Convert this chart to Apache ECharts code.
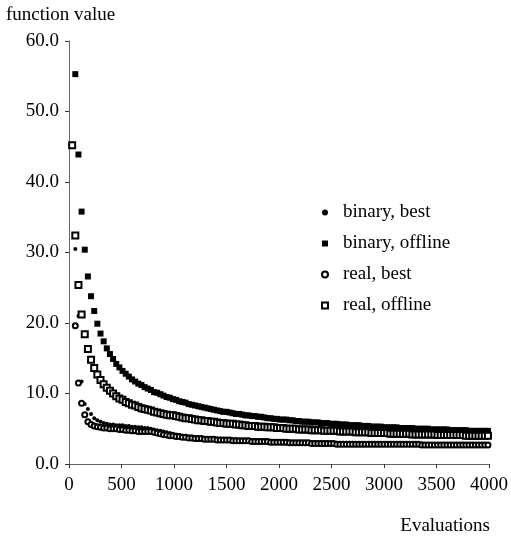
<!DOCTYPE html>
<html>
<head>
<meta charset="utf-8">
<script src="https://cdn.jsdelivr.net/npm/echarts@6/dist/echarts.min.js"></script>
<style>
  html, body { margin: 0; padding: 0; background: #fff; }
  #chart { width: 511px; height: 540px; }
</style>
</head>
<body>
<div id="chart"></div>
<script>
// evaluation grid: one point every 30 evaluations
const evaluations = Array.from({ length: 133 }, (_, i) => 30 * (i + 1));

// first binary values lie above 60 and are off the chart
const binaryBest = [null, 30.5, 21.0, 11.7, 8.5, 7.8, 7.1, 6.5, 6.2, 6.0,
  5.8, 5.7, 5.6, 5.6, 5.5, 5.5, 5.5, 5.4, 5.4, 5.3,
  5.3, 5.2, 5.2, 5.1, 5.1, 5.0, 4.9, 4.8, 4.7, 4.6,
  4.5, 4.4, 4.3, 4.2, 4.1, 4.0, 4.0, 3.9, 3.9, 3.8,
  3.8, 3.7, 3.7, 3.7, 3.6, 3.6, 3.6, 3.6, 3.5, 3.5,
  3.5, 3.5, 3.5, 3.4, 3.4, 3.4, 3.4, 3.4, 3.3, 3.3,
  3.3, 3.3, 3.3, 3.3, 3.2, 3.2, 3.2, 3.2, 3.2, 3.2,
  3.1, 3.1, 3.1, 3.1, 3.1, 3.1, 3.1, 3.1, 3.0, 3.0,
  3.0, 3.0, 3.0, 3.0, 3.0, 3.0, 3.0, 3.0, 3.0, 3.0,
  2.9, 2.9, 2.9, 2.9, 2.9, 2.9, 2.9, 2.9, 2.9, 2.9,
  2.9, 2.9, 2.9, 2.9, 2.9, 2.9, 2.9, 2.9, 2.9, 2.9,
  2.9, 2.9, 2.8, 2.8, 2.8, 2.8, 2.8, 2.8, 2.8, 2.8,
  2.8, 2.8, 2.8, 2.8, 2.8, 2.8, 2.8, 2.8, 2.8, 2.8,
  2.8, 2.8, 2.8];

const binaryOffline = [null, 55.3, 43.9, 35.8, 30.4, 26.6, 23.8, 21.7, 19.9, 18.5,
  17.4, 16.4, 15.6, 14.9, 14.2, 13.7, 13.2, 12.8, 12.4, 12.0,
  11.7, 11.4, 11.2, 10.9, 10.7, 10.5, 10.2, 10.1, 9.9, 9.7,
  9.5, 9.4, 9.2, 9.1, 8.9, 8.8, 8.7, 8.5, 8.4, 8.3,
  8.2, 8.1, 8.0, 7.9, 7.8, 7.7, 7.6, 7.5, 7.4, 7.4,
  7.3, 7.2, 7.1, 7.1, 7.0, 6.9, 6.9, 6.8, 6.8, 6.7,
  6.7, 6.6, 6.5, 6.5, 6.4, 6.4, 6.3, 6.3, 6.3, 6.2,
  6.2, 6.1, 6.1, 6.0, 6.0, 6.0, 5.9, 5.9, 5.9, 5.8,
  5.8, 5.8, 5.7, 5.7, 5.7, 5.6, 5.6, 5.6, 5.5, 5.5,
  5.5, 5.5, 5.4, 5.4, 5.4, 5.3, 5.3, 5.3, 5.3, 5.2,
  5.2, 5.2, 5.2, 5.2, 5.1, 5.1, 5.1, 5.1, 5.1, 5.0,
  5.0, 5.0, 5.0, 5.0, 4.9, 4.9, 4.9, 4.9, 4.9, 4.9,
  4.8, 4.8, 4.8, 4.8, 4.8, 4.8, 4.7, 4.7, 4.7, 4.7,
  4.7, 4.7, 4.7];

const realBest = [45.2, 19.6, 11.5, 8.6, 7.0, 6.0, 5.6, 5.4, 5.3, 5.2,
  5.1, 5.1, 5.0, 5.0, 5.0, 4.9, 4.9, 4.8, 4.8, 4.7,
  4.7, 4.6, 4.6, 4.6, 4.6, 4.6, 4.5, 4.4, 4.3, 4.2,
  4.1, 4.0, 4.0, 3.9, 3.9, 3.8, 3.8, 3.7, 3.7, 3.6,
  3.6, 3.6, 3.5, 3.5, 3.5, 3.5, 3.4, 3.4, 3.4, 3.4,
  3.4, 3.3, 3.3, 3.3, 3.3, 3.3, 3.3, 3.2, 3.2, 3.2,
  3.2, 3.2, 3.2, 3.1, 3.1, 3.1, 3.1, 3.1, 3.1, 3.0,
  3.0, 3.0, 3.0, 3.0, 3.0, 3.0, 2.9, 2.9, 2.9, 2.9,
  2.9, 2.9, 2.9, 2.9, 2.8, 2.8, 2.8, 2.8, 2.8, 2.8,
  2.8, 2.8, 2.8, 2.8, 2.8, 2.8, 2.8, 2.8, 2.8, 2.8,
  2.8, 2.8, 2.8, 2.8, 2.8, 2.8, 2.8, 2.8, 2.8, 2.8,
  2.8, 2.7, 2.7, 2.7, 2.7, 2.7, 2.7, 2.7, 2.7, 2.7,
  2.7, 2.7, 2.7, 2.7, 2.7, 2.7, 2.7, 2.7, 2.7, 2.7,
  2.7, 2.7, 2.7];

const realOffline = [45.2, 32.4, 25.4, 21.2, 18.4, 16.3, 14.8, 13.6, 12.7, 11.9,
  11.3, 10.8, 10.4, 10.0, 9.6, 9.3, 9.1, 8.8, 8.6, 8.4,
  8.3, 8.1, 7.9, 7.8, 7.7, 7.6, 7.4, 7.3, 7.2, 7.1,
  7.0, 6.9, 6.9, 6.8, 6.7, 6.6, 6.5, 6.5, 6.4, 6.3,
  6.2, 6.2, 6.1, 6.1, 6.0, 6.0, 5.9, 5.8, 5.8, 5.7,
  5.7, 5.7, 5.6, 5.6, 5.5, 5.5, 5.4, 5.4, 5.4, 5.3,
  5.3, 5.3, 5.2, 5.2, 5.2, 5.1, 5.1, 5.1, 5.0, 5.0,
  5.0, 5.0, 4.9, 4.9, 4.9, 4.9, 4.8, 4.8, 4.8, 4.8,
  4.7, 4.7, 4.7, 4.7, 4.7, 4.6, 4.6, 4.6, 4.6, 4.6,
  4.5, 4.5, 4.5, 4.5, 4.5, 4.4, 4.4, 4.4, 4.4, 4.4,
  4.4, 4.3, 4.3, 4.3, 4.3, 4.3, 4.3, 4.3, 4.2, 4.2,
  4.2, 4.2, 4.2, 4.2, 4.2, 4.2, 4.1, 4.1, 4.1, 4.1,
  4.1, 4.1, 4.1, 4.1, 4.1, 4.0, 4.0, 4.0, 4.0, 4.0,
  4.0, 4.0, 4.0];

const seriesNames = ['binary, best', 'binary, offline', 'real, best', 'real, offline'];
const xTicks = [0, 4000, 500];
const yTicks = [0, 60, 10];

const font = 'Liberation Serif';

function pairs(values) {
  return evaluations.map((e, i) => [e, values[i]]).filter(p => p[1] != null);
}

const chart = echarts.init(document.getElementById('chart'), null, { renderer: 'canvas' });

chart.setOption({
  animation: false,
  backgroundColor: '#fff',
  textStyle: { fontFamily: font, color: '#000' },
  title: [
    { text: 'function value', left: 1, top: 1, textStyle: { fontFamily: font, fontSize: 19, fontWeight: 'normal', color: '#000' } },
    { text: 'Evaluations', right: 16, top: 512, textStyle: { fontFamily: font, fontSize: 19, fontWeight: 'normal', color: '#000' } }
  ],
  grid: { left: 69, top: 41, right: 19, bottom: 76, containLabel: false },
  legend: {
    orient: 'vertical',
    left: 316,
    top: 198,
    itemGap: 12,
    itemWidth: 6,
    itemHeight: 6,
    textStyle: { fontFamily: font, fontSize: 19, color: '#000', padding: [0, 0, 0, 10] },
    data: seriesNames
  },
  xAxis: {
    type: 'value',
    min: xTicks[0],
    max: xTicks[1],
    interval: xTicks[2],
    splitLine: { show: false },
    axisLine: { lineStyle: { color: '#666', width: 1 } },
    axisTick: { length: 4, lineStyle: { color: '#333' } },
    axisLabel: { fontFamily: font, fontSize: 19, color: '#000', margin: 12, showMaxLabel: true, formatter: v => String(v) }
  },
  yAxis: {
    type: 'value',
    min: yTicks[0],
    max: yTicks[1],
    interval: yTicks[2],
    splitLine: { show: false },
    axisLine: { show: true, lineStyle: { color: '#666', width: 1 } },
    axisTick: { show: true, length: 4, lineStyle: { color: '#333' } },
    axisLabel: { fontFamily: font, fontSize: 19, color: '#000', margin: 10, formatter: v => v.toFixed(1) }
  },
  series: [
    {
      name: seriesNames[0], type: 'scatter', symbol: 'circle', symbolSize: 4,
      itemStyle: { color: '#000', opacity: 1 }, data: pairs(binaryBest)
    },
    {
      name: seriesNames[1], type: 'scatter', symbol: 'rect', symbolSize: 6,
      itemStyle: { color: '#000', opacity: 1 }, data: pairs(binaryOffline)
    },
    {
      name: seriesNames[2], type: 'scatter', symbol: 'emptyCircle', symbolSize: 5,
      itemStyle: { color: '#000', borderColor: '#000', borderWidth: 1, opacity: 1 }, data: pairs(realBest)
    },
    {
      name: seriesNames[3], type: 'scatter', symbol: 'emptyRect', symbolSize: 6,
      itemStyle: { color: '#000', borderColor: '#000', borderWidth: 1, opacity: 1 }, data: pairs(realOffline)
    }
  ]
});
</script>
</body>
</html>
